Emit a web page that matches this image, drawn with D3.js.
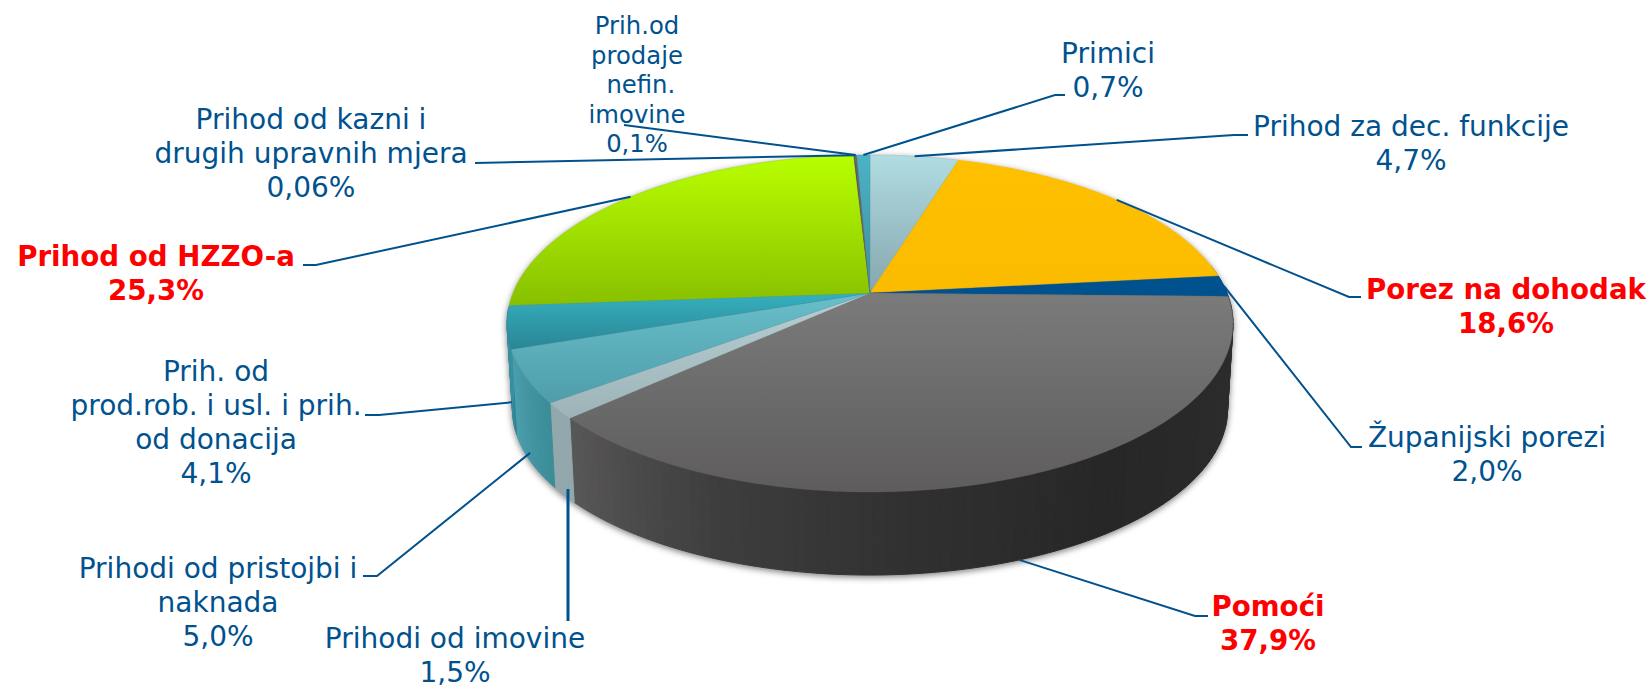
<!DOCTYPE html>
<html><head><meta charset="utf-8">
<script src="https://cdn.jsdelivr.net/npm/d3@7/dist/d3.min.js"></script>
<style>html,body{margin:0;padding:0;background:#fff}svg{display:block}
text{font-family:"DejaVu Sans",Verdana,sans-serif}</style></head>
<body><svg id="c" width="1651" height="689"></svg>
<script>
// ---- data (clockwise from 12 o'clock)
const categories = ["Prihod za dec. funkcije","Porez na dohodak","Županijski porezi","Pomoći","Prihodi od imovine","Prihodi od pristojbi i naknada","Prih. od prod.rob. i usl. i prih. od donacija","Prihod od HZZO-a","Prihod od kazni i drugih upravnih mjera","Prih.od prodaje nefin. imovine","Primici"];
const shares = [4.7,18.6,2.0,37.9,1.5,5.0,4.1,25.3,0.06,0.1,0.7];
const shareLabels = ["4,7%","18,6%","2,0%","37,9%","1,5%","5,0%","4,1%","25,3%","0,06%","0,1%","0,7%"];

// ---- styles
const topFrom  = ["#b0dde2","#ffc000","#00528f","#7b7b7b","#b7d0d4","#68bfca","#36b0bd","#b8ff00","#555555","#666666","#4bb3c6"];
const topTo    = ["#86a6ae","#fbbb00","#00528f","#5e5c5c","#9db3b7","#4f9dab","#2a8596","#88c000","#555555","#666666","#3f8e9e"];
const wallRamp = [
  ["#8aa9b0","#8aa9b0"],["#c99b00","#c99b00"],["#00406f","#00406f"],
  ["#2f2f2f","#2a2a2a","#272727","#303030","#3e3e3e","#5a5858"],
  ["#93a8ac","#93a8ac"],["#3b8d98","#4ea0b0"],["#2f8494","#3a93a3"],
  ["#6f9a00","#6f9a00"],["#444","#444"],["#444","#444"],["#3f8e9e","#3f8e9e"]];
const labelBlue = "#00528f", labelRed = "#ff0000";

// ---- perspective pie model
const CX = 870, CY = 293, A = 357, B = 163, K = 0.181, DEPTH_Y = 86, DEPTH_S = 0.985;
function project(theta, t = 0) {           // theta clockwise from top, t: 0 top rim → 1 bottom rim
  const x = Math.sin(theta), y = -Math.cos(theta), d = 1 - K * y, s = 1 + (DEPTH_S - 1) * t;
  return [CX + s * A * x / d, CY + t * DEPTH_Y + s * B * y / d];
}
const svg = d3.select("#c"), defs = svg.append("defs");
const arcs = d3.pie().sort(null).startAngle(0).endAngle(2 * Math.PI)(shares);
const deg = Math.PI / 180, line = d3.line();

const pie = svg.append("g").style("filter", "drop-shadow(0 2px 3px rgba(0,0,0,.5))");

// side walls
arcs.forEach((a, i) => {
  const lo = Math.max(a.startAngle, 80 * deg), hi = Math.min(a.endAngle, 265 * deg);
  if (hi <= lo) return;
  const n = Math.max(1, Math.ceil((hi - lo) / (1.5 * deg)));
  const col = d3.piecewise(d3.interpolateRgb, wallRamp[i]);
  const th = d3.scaleLinear().domain([0, n]).range([lo, hi]);
  pie.append("g").selectAll("path").data(d3.range(n)).join("path")
    .attr("d", k => line([project(th(k), 0), project(th(k + 1), 0), project(th(k + 1), 1), project(th(k), 1)]) + "Z")
    .attr("fill", k => col(k / n)).attr("stroke", k => col(k / n)).attr("stroke-width", 1);
});

// top faces
arcs.forEach((a, i) => {
  const id = "g" + i;
  const g = defs.append("linearGradient").attr("id", id).attr("x1", 0).attr("y1", 0).attr("x2", 0).attr("y2", 1);
  g.append("stop").attr("offset", 0).attr("stop-color", topFrom[i]);
  g.append("stop").attr("offset", 1).attr("stop-color", topTo[i]);
  const n = Math.max(2, Math.ceil((a.endAngle - a.startAngle) / deg));
  const pts = d3.range(n + 1).map(k => project(a.startAngle + (a.endAngle - a.startAngle) * k / n));
  pie.append("path").attr("d", line([[CX, CY], ...pts]) + "Z").attr("fill", `url(#${id})`)
     .attr("stroke", topTo[i]).attr("stroke-width", 0.3);
});

// ---- annotation layout: label lines, anchor depth on the slice, and the leader's outer points
const labels = [
 {i:0, t:["Prihod za dec. funkcije"], x:1411, y:136, depth:0, out:[[1234,135],[1248,135]]},
 {i:1, t:["Porez na dohodak"], x:1506, y:299, depth:0, out:[[1349,297],[1361,297]], bold:1},
 {i:2, t:["Županijski porezi"], x:1487, y:447, depth:0.0, out:[[1351,447],[1362,447]]},
 {i:3, t:["Pomoći"], x:1268, y:616, depth:1, out:[[1195,616],[1208,616]], bold:1},
 {i:4, t:["Prihodi od imovine"], x:455, y:648, depth:0.93, out:[[568,621]], vertical:1},
 {i:5, t:["Prihodi od pristojbi i","naknada"], x:218, y:578, depth:0.9, out:[[377,576],[363,576]]},
 {i:6, t:["Prih. od","prod.rob. i usl. i prih.","od donacija"], x:216, y:381, depth:0.88, out:[[379,415],[365,415]]},
 {i:7, t:["Prihod od HZZO-a"], x:156, y:266, depth:0, out:[[316,265],[303,265]], bold:1},
 {i:8, t:["Prihod od kazni i","drugih upravnih mjera"], x:311, y:129, depth:0, out:[[475,163]]},
 {i:9, t:["Prih.od","prodaje"," nefin.","imovine"], x:637, y:34, depth:0, out:[[624,125]], small:1},
 {i:10,t:["Primici"], x:1108, y:63, depth:0, out:[[1055,95],[1065,95]]}
];
const fsN = 28, fsB = 27.7, lhN = 34, fsS = 24.3, lhS = 29.5;

const leaders = svg.append("g").attr("fill","none").attr("stroke",labelBlue).attr("stroke-width",2);
labels.forEach(l => {
  const a = arcs[l.i];
  const p = project((a.startAngle + a.endAngle) / 2, l.depth);
  if (l.vertical) p[0] = l.out[0][0];
  leaders.append("path").attr("d", line([p, ...l.out])).attr("stroke-width", l.vertical ? 3 : 2);
});

const txt = svg.append("g").attr("text-anchor","middle");
labels.forEach(l => {
  const fs = l.small ? fsS : l.bold ? fsB : fsN, lh = l.small ? lhS : lhN;
  [...l.t, shareLabels[l.i]].forEach((s, k) => {
    txt.append("text").attr("x", l.x).attr("y", l.y + k * lh).attr("font-size", fs)
      .attr("fill", l.bold ? labelRed : labelBlue).attr("font-weight", l.bold ? 700 : 400)
      .attr("xml:space","preserve").style("white-space","pre").text(s);
  });
});
</script></body></html>
